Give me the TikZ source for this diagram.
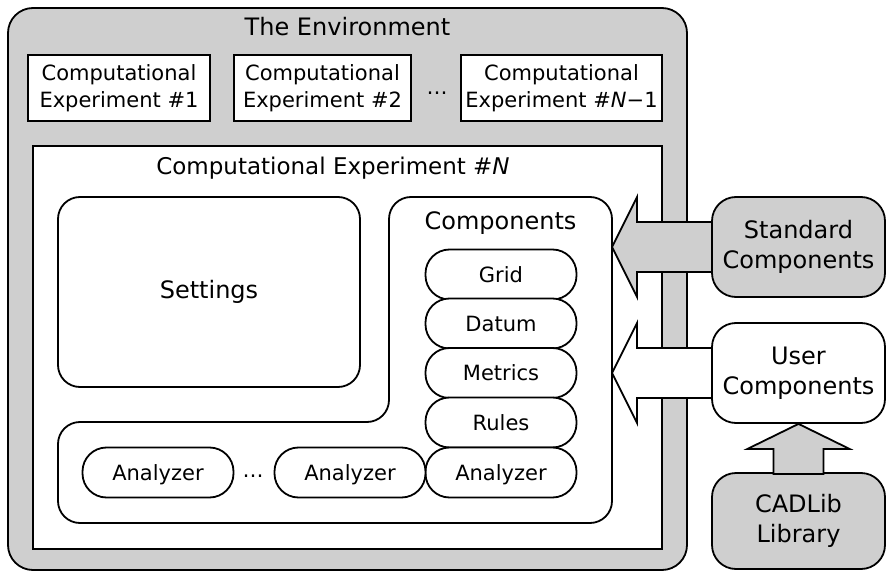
\documentclass[tikz,border=0pt]{standalone}
\usepackage{fontspec}
\setmainfont{DejaVu Sans}
\usepackage{tikz}
\usetikzlibrary{shapes}

\definecolor{envgray}{RGB}{207,207,207}

\begin{document}
\begin{tikzpicture}[x=1pt, y=-1pt, line width=1.8pt,
  titletext/.style={font=\fontsize{24}{30}\selectfont, align=center},
  boxtext/.style={font=\fontsize{21}{27}\selectfont, align=center},
  expbox/.style={draw, fill=white, inner sep=0pt, minimum height=66pt, boxtext},
  pill/.style={draw, fill=white, rounded corners=24pt, minimum width=151pt, minimum height=50pt,
    inner sep=0pt, text height=15pt, text depth=0pt, boxtext},
  sourcebox/.style={draw, rounded corners=24pt, minimum width=173pt, minimum height=100pt,
    inner sep=0pt, titletext},
  blockarrow/.style={draw, line join=miter}]

\useasboundingbox (0,0) rectangle (886,572);

\node (Environment) at (347.5,289) [draw, fill=envgray, rounded corners=25pt, minimum width=679pt, minimum height=562pt]{};
\node (EnvTitle) at (347.5,27) [titletext]{The Environment};

\node (Experiment1) at (119,88) [expbox, minimum width=182pt]{Computational\\Experiment \#1};
\node (Experiment2) at (322.5,88) [expbox, minimum width=177pt]{Computational\\Experiment \#2};
\node (TopDots) at (437,93) [boxtext]{…};
\node (ExperimentNm1) at (561.5,88) [expbox, minimum width=201pt]{Computational\\Experiment \#\textit{N}−1};

\node (ExperimentN) at (347.5,347.5) [draw, fill=white, minimum width=629pt, minimum height=403pt]{};
\node (ExperimentNTitle) at (333,168) [font=\fontsize{23}{28}\selectfont]{Computational Experiment \#\textit{N}};

\node (Settings) at (209,292) [draw, rounded corners=22pt, minimum width=302pt, minimum height=190pt, titletext]{Settings};

% components panel (L shaped)
\coordinate (PanelNE) at (612,197);
\draw [rounded corners=22pt] (389,197) -- (PanelNE) -- (612,523) -- (58,523) -- (58,422) -- (389,422) -- cycle;
\node (ComponentsTitle) at (500.5,223) [titletext]{Components};

\node (Grid) at (501,274.5) [pill]{Grid};
\node (Datum) at (501,323.5) [pill]{Datum};
\node (Metrics) at (501,373) [pill]{Metrics};
\node (Rules) at (501,422.5) [pill]{Rules};
\node (Analyzer3) at (501,472.5) [pill]{Analyzer};
\node (Analyzer2) at (350,472.5) [pill]{Analyzer};
\node (Analyzer1) at (158,472.5) [pill]{Analyzer};
\node (BottomDots) at (253,476) [boxtext]{…};

\node (Standard) at (798.5,247) [sourcebox, fill=envgray]{Standard\\Components};
\node (User) at (798.5,373) [sourcebox, fill=white]{User\\Components};
\node (CADLib) at (798.5,521) [sourcebox, fill=envgray, minimum height=96pt]{CADLib\\Library};

\draw [blockarrow, fill=envgray] (PanelNE |- Standard.west) -- ++(25,-50) -- ++(0,25) -- ++(75,0) -- ++(0,50) -- ++(-75,0) -- ++(0,25) -- cycle;
\draw [blockarrow, fill=white] (PanelNE |- User.west) -- ++(25,-50) -- ++(0,25) -- ++(75,0) -- ++(0,50) -- ++(-75,0) -- ++(0,25) -- cycle;
\draw [blockarrow, fill=envgray] (User.south) -- ++(51,25) -- ++(-26,0) -- ++(0,25) -- ++(-50,0) -- ++(0,-25) -- ++(-26,0) -- cycle;

\end{tikzpicture}
\end{document}
